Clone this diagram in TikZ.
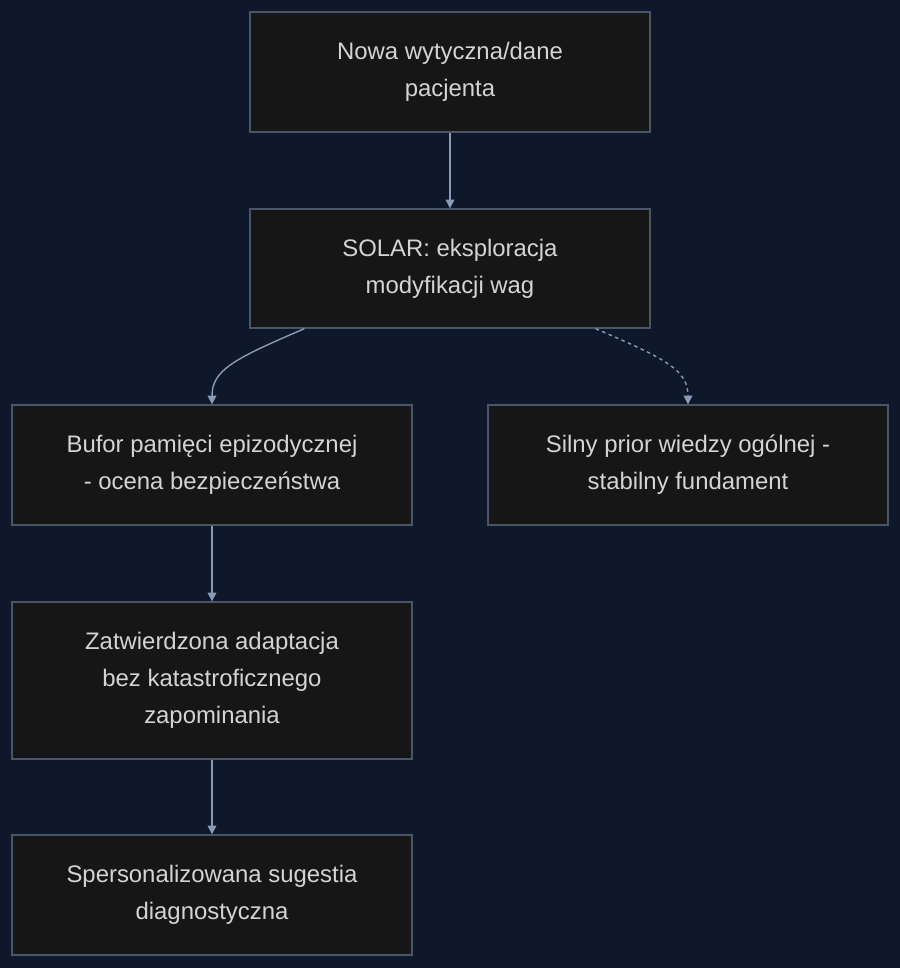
\documentclass[tikz,border=0pt]{standalone}
\usepackage{fontspec}
\setmainfont{Liberation Sans}
\usetikzlibrary{arrows.meta}
\definecolor{bgnavy}{HTML}{0F172A}
\definecolor{boxfill}{HTML}{161616}
\definecolor{boxline}{HTML}{4A5568}
\definecolor{boxtext}{HTML}{D4D4D4}
\definecolor{edge}{HTML}{8A9BB8}
\tikzset{
  stage/.style={draw=boxline, fill=boxfill, text=boxtext, minimum width=8cm, align=center,
    font=\fontsize{13.6}{21}\selectfont, line width=0.8pt},
  flow/.style={-{Triangle[width=5pt,length=5pt]}, draw=edge, line width=0.8pt},
}
\begin{document}
\begin{tikzpicture}[x=0.02cm, y=-0.02cm]
  \fill[bgnavy] (0,0) rectangle (900,968);

  \node[stage, minimum height=2.4cm] (nowa) at (450,72) {Nowa wytyczna/dane\\pacjenta};
  \node[stage, minimum height=2.38cm] (solar) at (450,268.5) {SOLAR: eksploracja\\modyfikacji wag};
  \node[stage, minimum height=2.4cm] (bufor) at (212,465) {Bufor pamięci epizodycznej\\- ocena bezpieczeństwa};
  \node[stage, minimum height=2.4cm] (prior) at (688,465) {Silny prior wiedzy ogólnej -\\stabilny fundament};
  \node[stage, minimum height=3.14cm] (zatw) at (212,680.5) {Zatwierdzona adaptacja\\bez katastroficznego\\zapominania};
  \node[stage, minimum height=2.4cm] (sugestia) at (212,895) {Spersonalizowana sugestia\\diagnostyczna};

  \draw[flow] (nowa) -- (solar);
  \draw[flow] (solar.south west) ++(55,0) .. controls +(-70,30) and (212,370) .. (bufor.north);
  \draw[flow, dashed, dash pattern=on 2pt off 2pt] (solar.south east) ++(-55,0) .. controls +(70,30) and (688,370) .. (prior.north);
  \draw[flow] (bufor) -- (zatw);
  \draw[flow] (zatw) -- (sugestia);
\end{tikzpicture}
\end{document}
